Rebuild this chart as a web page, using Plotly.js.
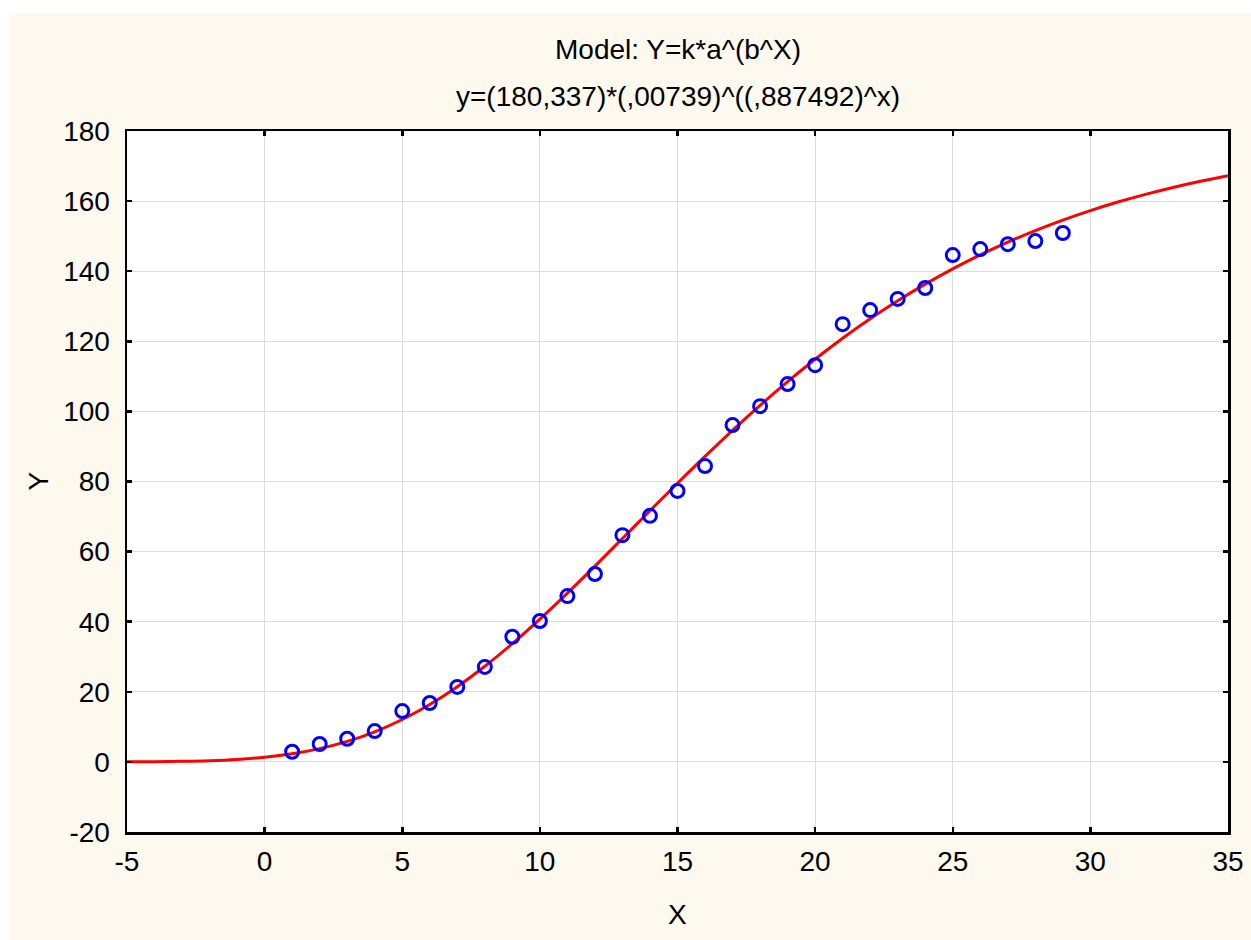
<!DOCTYPE html>
<html>
<head>
<meta charset="utf-8">
<script src="https://cdn.plot.ly/plotly-3.0.1.min.js"></script>
<style>
html, body { margin:0; padding:0; background:#ffffff; }
#chart { position:absolute; left:9px; top:13px; width:1242px; height:927px; }
</style>
</head>
<body>
<div id="chart"></div>
<script>
// Observed data points
const obsX = [1,2,3,4,5,6,7,8,9,10,11,12,13,14,15,16,17,18,19,20,21,22,23,24,25,26,27,28,29];
const obsY = [2.9,5.1,6.6,8.8,14.5,16.8,21.4,27.1,35.7,40.2,47.3,53.6,64.7,70.2,77.3,84.4,96.1,101.5,107.8,113.2,124.9,128.9,132.1,135.2,144.6,146.3,147.7,148.6,150.9];

// Fitted curve values as drawn (read at each integer x)
const fitX = [-5,-4,-3,-2,-1,0,1,2,3,4,5,6,7,8,9,10,11,12,13,14,15,16,17,18,19,20,21,22,23,24,25,26,27,28,29,30,31,32,33,34,35];
const fitY = [0.02,0.07,0.16,0.36,0.72,1.33,2.32,3.78,5.84,8.59,12.10,16.39,21.47,27.28,33.74,40.73,48.16,55.87,63.75,71.66,79.50,87.17,94.60,101.72,108.49,114.88,120.86,126.42,131.57,136.32,140.68,144.67,148.30,151.60,154.59,157.29,159.73,161.93,163.90,165.67,167.26];

// Tick labels
const xTickVals = [-5,0,5,10,15,20,25,30,35];
const xTickText = ["-5","0","5","10","15","20","25","30","35"];
const yTickVals = [-20,0,20,40,60,80,100,120,140,160,180];
const yTickText = ["-20","0","20","40","60","80","100","120","140","160","180"];

const titleLine1 = "Model: Y=k*a^(b^X)";
const titleLine2 = "y=(180,337)*(,00739)^((,887492)^x)";
const xLabel = "X";
const yLabel = "Y";

const font = {family: "Liberation Sans, Arial, sans-serif", size: 28, color: "#000000"};

const traces = [
  {
    x: fitX, y: fitY, type: "scatter", mode: "lines",
    line: {color: "#ff0000", width: 3, shape: "spline", smoothing: 1},
    hoverinfo: "skip"
  },
  {
    x: obsX, y: obsY, type: "scatter", mode: "markers",
    marker: {symbol: "circle-open", size: 13, color: "#0000ff", line: {color: "#0000ff", width: 3}}
  }
];

const axisCommon = {
  showline: true, linecolor: "#000000", linewidth: 2.5, mirror: "ticks",
  ticks: "inside", ticklen: 5, tickwidth: 2.5, tickcolor: "#000000",
  showgrid: true, gridcolor: "#dcdcdc", gridwidth: 1,
  zeroline: false, tickfont: font, tickmode: "array"
};

const layout = {
  width: 1242, height: 927,
  paper_bgcolor: "#fdf9ee", plot_bgcolor: "#ffffff",
  margin: {l: 118, r: 23, t: 118, b: 108},
  showlegend: false,
  font: font,
  xaxis: Object.assign({}, axisCommon, {range: [-5, 35], tickvals: xTickVals, ticktext: xTickText, ticklabelstandoff: 3}),
  yaxis: Object.assign({}, axisCommon, {range: [-20, 180], tickvals: yTickVals, ticktext: yTickText, ticklabelstandoff: 9}),
  annotations: [
    {text: titleLine1, xref: "paper", yref: "paper", x: 0.5, y: 1.1156, xanchor: "center", yanchor: "middle", showarrow: false, font: font},
    {text: titleLine2, xref: "paper", yref: "paper", x: 0.5, y: 1.0499, xanchor: "center", yanchor: "middle", showarrow: false, font: font},
    {text: xLabel, xref: "paper", yref: "paper", x: 0.5, y: -0.1184, xanchor: "center", yanchor: "middle", showarrow: false, font: font},
    {text: yLabel, xref: "paper", yref: "paper", x: -0.0808, y: 0.5, xanchor: "center", yanchor: "middle", showarrow: false, textangle: -90, font: font}
  ]
};

Plotly.newPlot("chart", traces, layout, {displayModeBar: false, staticPlot: true});
</script>
</body>
</html>
